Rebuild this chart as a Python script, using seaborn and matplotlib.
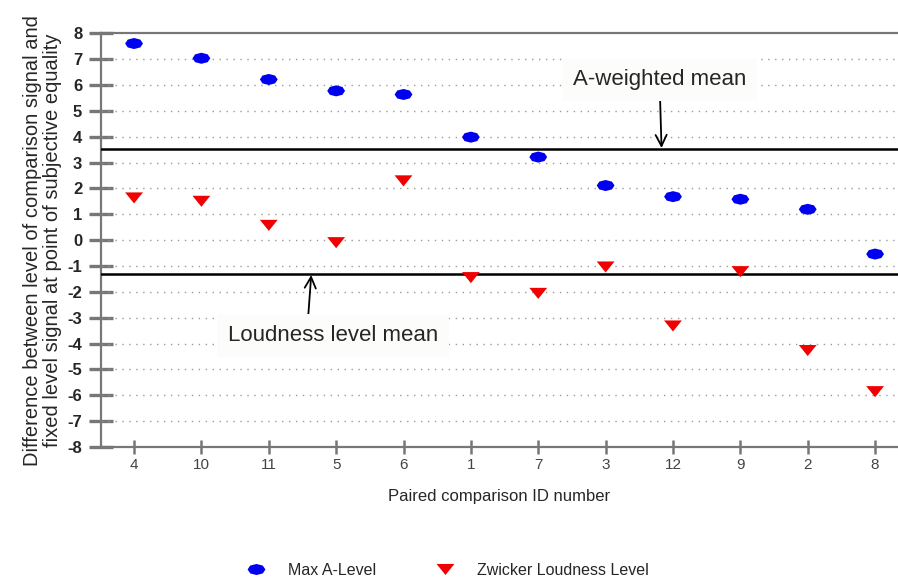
import numpy as np
import pandas as pd
import matplotlib
matplotlib.use("Agg")
import matplotlib.pyplot as plt
from matplotlib.path import Path
import seaborn as sns

# data
pair_ids = ["4", "10", "11", "5", "6", "1", "7", "3", "12", "9", "2", "8"]
max_a_level = [7.6, 7.03, 6.21, 5.77, 5.63, 3.98, 3.21, 2.11, 1.68, 1.58, 1.19, -0.54]
zwicker_level = [1.63, 1.5, 0.57, -0.1, 2.29, -1.45, -2.06, -1.04, -3.32, -1.22, -4.27, -5.86]
a_weighted_mean = 3.53
loudness_mean = -1.32
y_ticks = list(range(-8, 9))

sns.set_style("white")
plt.rcParams["font.family"] = ["Liberation Sans", "DejaVu Sans"]
plt.rcParams["axes.unicode_minus"] = False

df = pd.DataFrame({
    "pair": pair_ids * 2,
    "value": max_a_level + zwicker_level,
    "series": ["Max A-Level"] * len(pair_ids) + ["Zwicker Loudness Level"] * len(pair_ids),
})

# flattened marker shapes
t = np.linspace(0, 2 * np.pi, 9)[:-1]
ellipse = Path(np.column_stack([np.cos(t), 0.62 * np.sin(t)]).tolist() + [[1, 0]], closed=True)
tri = Path([[-1, 0.62], [1, 0.62], [0, -0.62], [-1, 0.62]], closed=True)

fig = plt.figure(figsize=(8.98, 5.78), dpi=100)
ax = fig.add_axes([0.1125, 0.2266, 0.8875, 0.716])

sns.scatterplot(data=df, x="pair", y="value", hue="series", style="series",
                palette={"Max A-Level": "#0000f0", "Zwicker Loudness Level": "#f00000"},
                markers={"Max A-Level": ellipse, "Zwicker Loudness Level": tri},
                s=165, linewidth=0, ax=ax, zorder=4, legend=True)

# dotted grid
for yv in y_ticks[1:-1]:
    ax.axhline(yv, color="#9a9a9a", lw=1, ls=(0, (1, 4)), zorder=1)

ax.axhline(a_weighted_mean, color="black", lw=1.8, zorder=3)
ax.axhline(loudness_mean, color="black", lw=1.8, zorder=3)

box = dict(facecolor="#fcfcfa", edgecolor="none", pad=8)
ax.annotate("A-weighted mean", xy=(7.83, a_weighted_mean + 0.03), xytext=(7.8, 6.2),
            ha="center", va="center", fontsize=16, bbox=box, zorder=2,
            arrowprops=dict(arrowstyle="->", color="black", lw=1.3,
                            shrinkA=0, shrinkB=0, mutation_scale=20))
ax.annotate("Loudness level mean", xy=(2.63, loudness_mean - 0.03), xytext=(2.95, -3.7),
            ha="center", va="center", fontsize=16, bbox=box, zorder=2,
            arrowprops=dict(arrowstyle="->", color="black", lw=1.3,
                            shrinkA=0, shrinkB=0, mutation_scale=20,
                            relpos=(0.38, 1.0)))

ax.set_ylim(-8, 8)
ax.set_xlim(-0.49, 11.34)
ax.set_yticks(y_ticks)
ax.tick_params(axis="y", direction="inout", length=17, width=2.4, color="#777777",
               labelsize=12, pad=5, left=True)
for lab in ax.get_yticklabels():
    lab.set_fontweight("bold")
ax.tick_params(axis="x", direction="inout", length=10, width=1.8, color="#777777",
               labelsize=11, labelcolor="#444444", pad=3, bottom=True)

for side in ["left", "bottom", "top"]:
    ax.spines[side].set_color("#777777")
    ax.spines[side].set_linewidth(1.6)
ax.spines["right"].set_visible(False)

ax.set_xlabel("Paired comparison ID number", fontsize=12, labelpad=12)
ax.set_ylabel("Difference between level of comparison signal and\n"
              "fixed level signal at point of subjective equality",
              fontsize=14.5, labelpad=4, linespacing=1.05)

handles, labels = ax.get_legend_handles_labels()
ax.legend_.remove()
fig.legend(handles, labels, loc="lower center", bbox_to_anchor=(0.495, -0.025), ncol=2,
           frameon=False, fontsize=11.5, columnspacing=3.3, handletextpad=1.0)

fig.savefig("out.png", dpi=100)
